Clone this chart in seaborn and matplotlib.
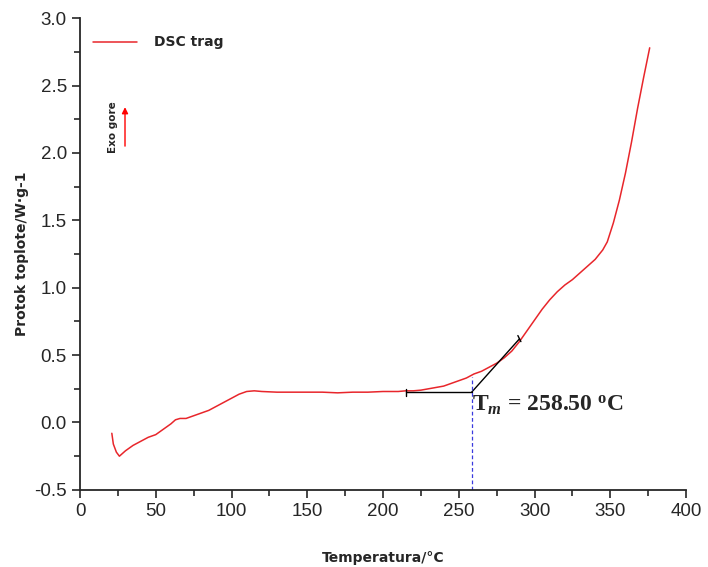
import numpy as np
import pandas as pd
import seaborn as sns
import matplotlib.pyplot as plt
from matplotlib.ticker import MultipleLocator

# DSC curve
temperature = [21, 22, 24, 26, 30, 35, 40, 45, 50, 55, 60, 63, 66, 70, 75, 80, 85, 90, 95,
               100, 105, 110, 115, 120, 130, 140, 150, 160, 170, 180, 190, 200, 210, 215,
               220, 225, 230, 235, 240, 245, 250, 255, 260, 265, 270, 275, 280, 285, 290,
               295, 300, 305, 310, 315, 320, 325, 330, 335, 340, 345, 348, 352, 356, 360,
               364, 368, 372, 376]
heat_flow = [-0.08, -0.16, -0.22, -0.25, -0.21, -0.17, -0.14, -0.11, -0.09, -0.05, -0.01, 0.02,
             0.03, 0.03, 0.05, 0.07, 0.09, 0.12, 0.15, 0.18, 0.21, 0.23, 0.235, 0.23, 0.225,
             0.225, 0.225, 0.225, 0.22, 0.225, 0.225, 0.23, 0.23, 0.235, 0.235, 0.24, 0.25,
             0.26, 0.27, 0.29, 0.31, 0.33, 0.36, 0.38, 0.41, 0.44, 0.48, 0.53, 0.60, 0.68,
             0.76, 0.84, 0.91, 0.97, 1.02, 1.06, 1.11, 1.16, 1.21, 1.28, 1.34, 1.48, 1.65,
             1.85, 2.08, 2.33, 2.56, 2.78]

tm = 258.5
baseline_x = [215, tm]
baseline_y = [0.225, 0.225]
tangent_x = [tm, 290]
tangent_y = [0.225, 0.62]

df = pd.DataFrame({"Temperatura": temperature, "Protok": heat_flow})

sns.set_style("ticks")
plt.rcParams['font.family'] = ['Liberation Sans', 'DejaVu Sans']
plt.rcParams['axes.unicode_minus'] = False
plt.rcParams['mathtext.fontset'] = 'custom'
plt.rcParams['mathtext.rm'] = 'Liberation Serif:bold'
plt.rcParams['mathtext.it'] = 'Liberation Serif:italic:bold'
plt.rcParams['mathtext.bf'] = 'Liberation Serif:bold'

fig = plt.figure(figsize=(7.08, 5.67), dpi=100)
ax = fig.add_axes([0.113, 0.136, 0.856, 0.832])

sns.lineplot(data=df, x="Temperatura", y="Protok", color="#e8262b", lw=1.1,
             label="DSC trag", ax=ax, sort=False)

# onset construction
ax.plot(baseline_x, baseline_y, color="black", lw=1.0)
ax.plot(tangent_x, tangent_y, color="black", lw=1.0)
ax.plot([baseline_x[0]] * 2, [0.2, 0.25], color="black", lw=1.0)
ax.plot([291, 289], [0.60, 0.645], color="black", lw=1.0)
ax.plot([tm, tm], [-0.5, 0.34], color="#3a3adf", lw=0.9, ls=(0, (3, 2)))
ax.text(258.5, 0.13, r"T$_{\mathit{m}}$ = 258.50 $^{\mathrm{o}}$C",
        fontsize=17, fontweight="bold", family="Liberation Serif", va="center")

# exo arrow
ax.annotate("", xy=(29.7, 2.36), xytext=(29.7, 2.03),
            arrowprops=dict(arrowstyle="-|>", color="red", lw=1.0, mutation_scale=9))
ax.text(22, 2.19, "Exo gore", rotation=90, fontsize=7.5, fontweight="bold",
        ha="center", va="center", family="DejaVu Sans")

ax.set_xlim(0, 400)
ax.set_ylim(-0.5, 3.0)
ax.xaxis.set_major_locator(MultipleLocator(50))
ax.xaxis.set_minor_locator(MultipleLocator(25))
ax.yaxis.set_major_locator(MultipleLocator(0.5))
ax.yaxis.set_minor_locator(MultipleLocator(0.25))
ax.tick_params(which="major", length=6, width=1.2, labelsize=13.5, direction="out")
ax.tick_params(which="minor", length=4, width=1.2, direction="out")
for s in ["left", "bottom"]:
    ax.spines[s].set_linewidth(1.3)
sns.despine(ax=ax)

ax.set_xlabel("Temperatura/°C", fontsize=10, fontweight="bold", labelpad=22,
              family="DejaVu Sans")
ax.set_ylabel("Protok toplote/W·g-1", fontsize=10, fontweight="bold", labelpad=4,
              family="DejaVu Sans")

leg = ax.legend(loc="upper left", frameon=False, fontsize=10, handlelength=3.2,
                handletextpad=1.2, bbox_to_anchor=(0.0, 0.99),
                prop={"weight": "bold", "family": "DejaVu Sans"})

fig.savefig("out.png", dpi=100)
